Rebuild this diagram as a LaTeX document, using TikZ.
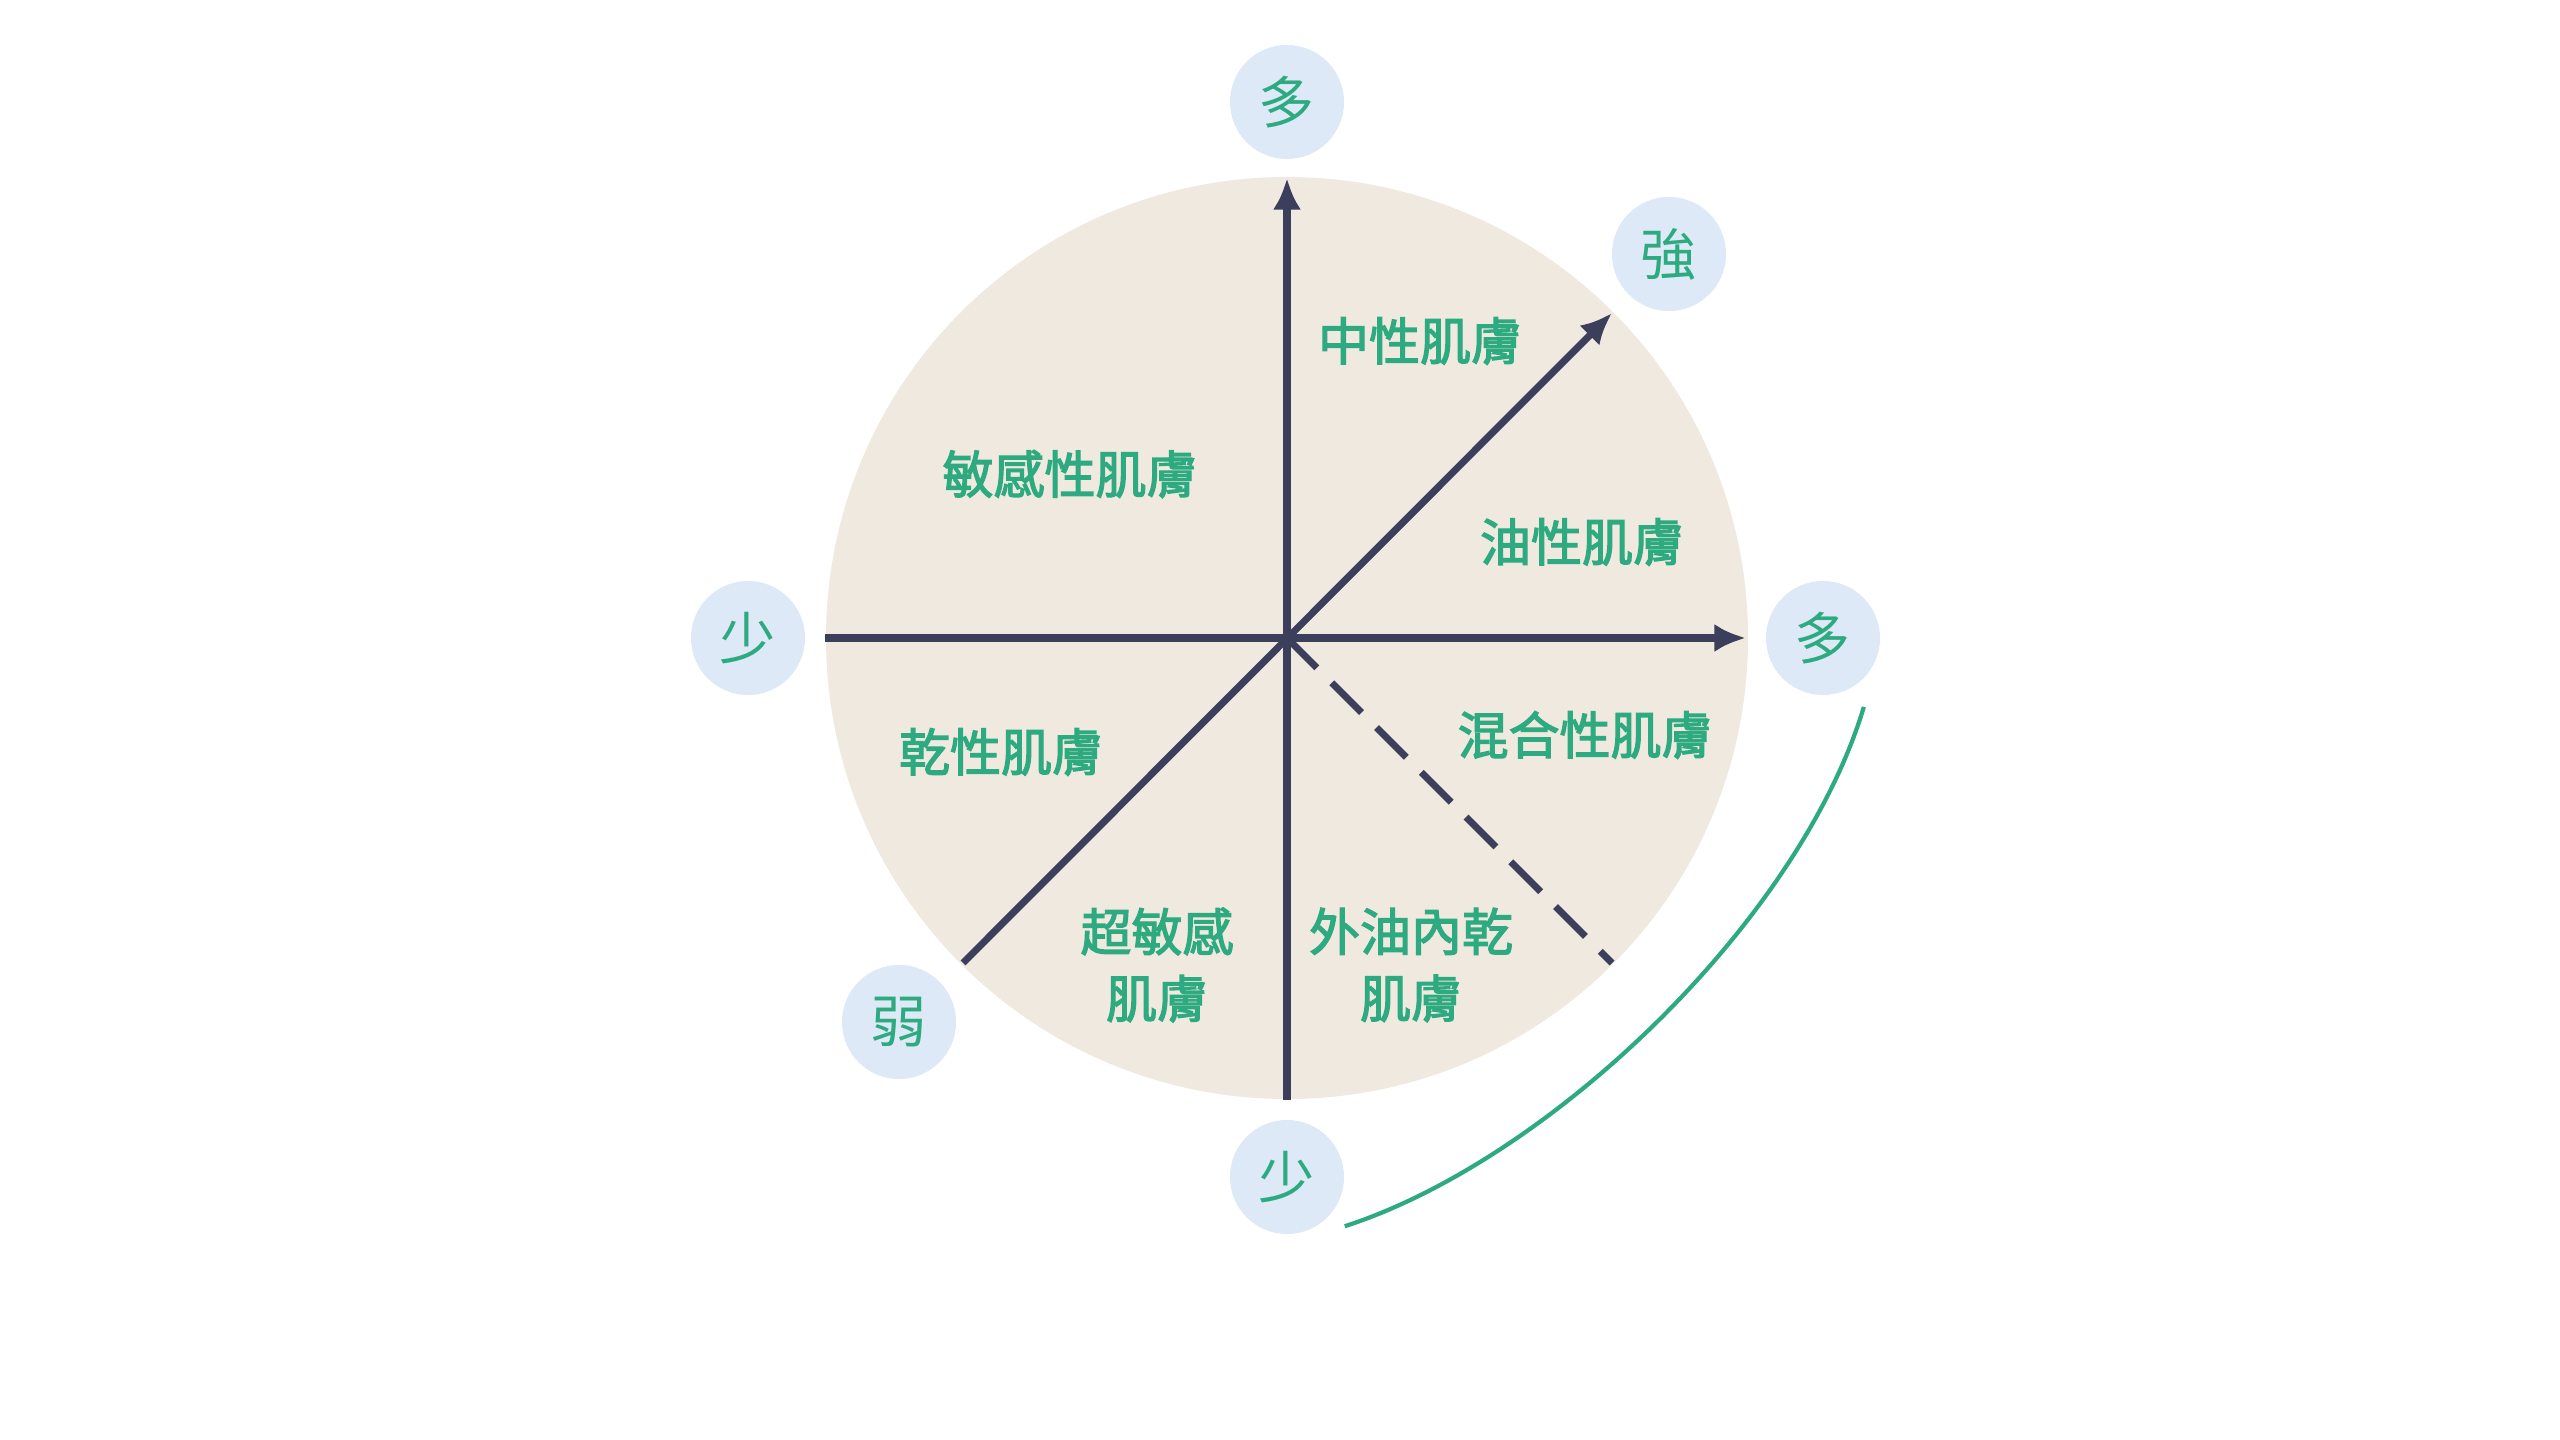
\documentclass[tikz,border=0pt]{standalone}
\usepackage{fontspec}
\usetikzlibrary{arrows.meta}
\newfontfamily\cjk[FakeBold=2.5]{Noto Sans CJK TC}
\newfontfamily\cjkl{Noto Sans CJK TC}
\definecolor{beige}{HTML}{EFE9DF}
\definecolor{axis}{HTML}{3B3F5C}
\definecolor{grn}{HTML}{2DAA80}
\definecolor{lblue}{HTML}{DDE9F6}
\begin{document}
\begin{tikzpicture}[x=0.01cm,y=-0.01cm,
  ax/.style={draw=axis,line width=2pt},
  tip/.style={-{Latex[length=9pt,width=8pt]}},
  badge/.style={circle,fill=lblue,minimum size=1.14cm,inner sep=0pt,text=grn,font=\cjkl\fontsize{16pt}{18pt}\selectfont},
  lab/.style={text=grn,font=\cjk\fontsize{14.5pt}{19pt}\selectfont,align=center}]
\useasboundingbox (0,0) rectangle (2560,1440);
\fill[beige] (1287,638) circle (461);
\coordinate (c) at (1287,638);
\coordinate (top) at (1287,178);
\coordinate (bot) at (1287,1100);
\coordinate (lft) at (825,638);
\coordinate (rgt) at (1746,638);
\coordinate (ne) at (1612,313);
\coordinate (sw) at (963,963);
\coordinate (se) at (1612,963);
\draw[ax,tip] (bot) -- (top);
\draw[ax,tip] (lft) -- (rgt);
\draw[ax,tip] (sw) -- (ne);
\draw[ax,dash pattern=on 12pt off 6pt] (c) -- (se);
\node[badge] (n1) at (1287,102) {多};
\node[badge] (n2) at (1669,254) {強};
\node[badge] (n3) at (1823,638) {多};
\node[badge] (n4) at (748,638) {少};
\node[badge] (n5) at (899,1022) {弱};
\node[badge] (n6) at (1287,1177) {少};
\coordinate (g1) at ([yshift=-14]n6.east);
\draw[grn,line width=1.2pt] (g1) .. controls (1550,1160) and (1800,920) .. ([yshift=-8]n3.south east);
\node[lab] (t1) at (1420,341) {中性肌膚};
\node[lab] (t2) at (1070,474) {敏感性肌膚};
\node[lab] (t3) at (1582,542) {油性肌膚};
\node[lab] (t4) at (1585,735) {混合性肌膚};
\node[lab] (t5) at (1001,752) {乾性肌膚};
\node[lab] (t6) at (1157,965) {超敏感\\肌膚};
\node[lab] (t7) at (1411,965) {外油內乾\\肌膚};
\end{tikzpicture}
\end{document}
